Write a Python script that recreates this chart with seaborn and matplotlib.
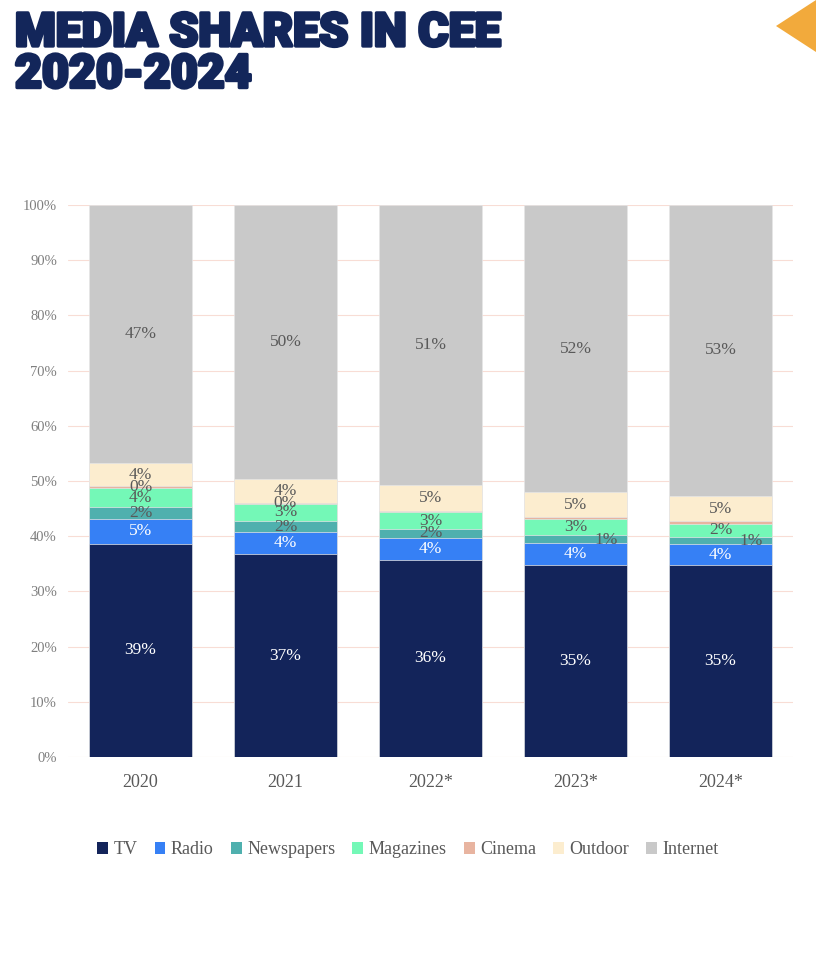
import pandas as pd
import numpy as np
import matplotlib.pyplot as plt
import seaborn as sns
from matplotlib.patches import Patch, Polygon
import matplotlib.patheffects as pe

# ====================================
# DATA (shares in %)
# ====================================

years = ["2020", "2021", "2022*", "2023*", "2024*"]
media = ["TV", "Radio", "Newspapers", "Magazines", "Cinema", "Outdoor", "Internet"]

tv = [38.6, 36.7, 35.7, 34.7, 34.7]
radio = [4.6, 4.0, 4.0, 4.1, 3.9]
newspapers = [2.0, 2.1, 1.6, 1.4, 1.3]
magazines = [3.6, 3.1, 3.0, 2.9, 2.4]
cinema = [0.3, 0.2, 0.3, 0.3, 0.4]
outdoor = [4.1, 4.3, 4.7, 4.6, 4.6]
internet = [46.8, 49.6, 50.7, 52.0, 52.7]

colors = ["#13245A", "#3680F5", "#4FB0AE", "#74F8B7", "#E8B4A0", "#FCEDCF", "#C9C9C9"]
label_colors = ["white", "white", "#595959", "#595959", "#595959", "#595959", "#595959"]

values = np.array([tv, radio, newspapers, magazines, cinema, outdoor, internet])
tops = values.cumsum(axis=0)
bottoms = tops - values

# ====================================
# FIGURE
# ====================================

sns.set_style("white")
plt.rcParams["font.family"] = ["Liberation Serif", "DejaVu Serif"]

fig = plt.figure(figsize=(8.16, 9.68), dpi=100)
ax = fig.add_axes([68 / 816, 1 - 757 / 968, 725 / 816, 552 / 968])

# stacked bars: draw cumulative totals from the top layer down
for i in range(len(media) - 1, -1, -1):
    df = pd.DataFrame({"year": years, "share": tops[i] / 100})
    sns.barplot(data=df, x="year", y="share", color=colors[i], width=0.71,
                saturation=1, edgecolor="#E6E6E6", linewidth=0.5, ax=ax, zorder=2)

# data labels
for i, name in enumerate(media):
    for j in range(len(years)):
        if name == "Cinema" and j >= 2:
            continue
        x = j
        y = (bottoms[i, j] + values[i, j] / 2) / 100
        if name == "Newspapers" and j >= 3:
            x = j + 0.21
            y -= 0.002
        ax.text(x, y, f"{values[i, j]:.0f}%", ha="center", va="center",
                fontsize=12.5, color=label_colors[i], zorder=5)

ax.set_ylim(0, 1)
ax.set_xlim(-0.5, 4.5)
ticks = np.arange(0, 1.01, 0.1)
ax.set_yticks(ticks)
ax.set_yticklabels([f"{int(round(t * 100))}%" for t in ticks],
                   fontsize=10.5, color="#7F7F7F")
ax.tick_params(axis="x", labelsize=13, labelcolor="#595959", pad=12, length=0)
ax.tick_params(axis="y", length=0, pad=8)
ax.set_xlabel("")
ax.set_ylabel("")
ax.grid(axis="y", color="#F8DDD5", linewidth=0.8, zorder=0)
ax.set_axisbelow(True)
for s in ax.spines.values():
    s.set_visible(False)

handles = [Patch(facecolor=c, edgecolor="none") for c in colors]
fig.legend(handles, media, loc="center", bbox_to_anchor=(0.5, 1 - 850 / 968),
           ncol=7, frameon=False, fontsize=13, labelcolor="#595959",
           handlelength=0.6, handleheight=0.6, handletextpad=0.3, columnspacing=0.95)

# title
fig.text(15 / 816, 1 - 11 / 968, "MEDIA SHARES IN CEE\n2020-2024", ha="left", va="top",
         fontsize=33.5, fontweight="black", family="Roboto", color="#13265A",
         linespacing=0.93,
         path_effects=[pe.withStroke(linewidth=2.4, foreground="#13265A")])

# orange corner marker
fig.patches.append(Polygon([[776 / 816, 1 - 26 / 968], [1, 1.0], [1, 1 - 52 / 968]],
                           closed=True, transform=fig.transFigure,
                           facecolor="#F2AA3C", edgecolor="none"))

plt.savefig("out.png", dpi=100)
